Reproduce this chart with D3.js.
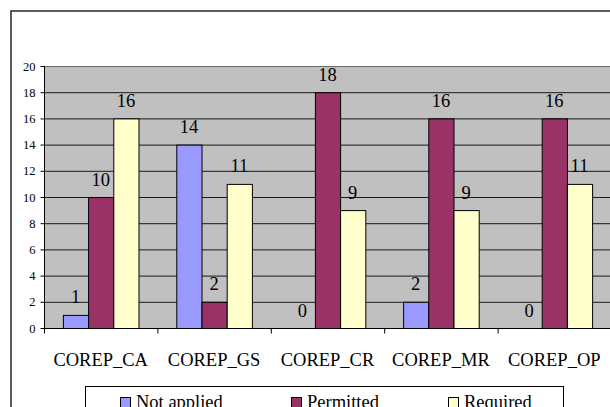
<!DOCTYPE html>
<html>
<head>
<meta charset="utf-8">
<script src="https://cdn.jsdelivr.net/npm/d3@7"></script>
<style>
  html, body { margin: 0; padding: 0; background: #fff; overflow: hidden; }
</style>
</head>
<body>
<svg id="chart" width="610" height="407"></svg>
<script>
var categories = ["COREP_CA", "COREP_GS", "COREP_CR", "COREP_MR", "COREP_OP"];
var seriesNames = ["Not applied", "Permitted", "Required"];
var notApplied = [1, 14, 0, 2, 0];
var permitted = [10, 2, 18, 16, 16];
var required = [16, 11, 9, 9, 11];
var yTicks = [0, 2, 4, 6, 8, 10, 12, 14, 16, 18, 20];
var seriesColors = ["#9999ff", "#993366", "#ffffcc"];
var serif = "'Times New Roman', 'Liberation Serif', Tinos, 'DejaVu Serif', serif";

var margin = { top: 66, left: 44, right: 611, bottom: 328 };

var svg = d3.select("#chart").style("font-family", serif);

// outer chart border (runs off the right and bottom edges)
svg.append("rect")
    .attr("x", 11).attr("y", 11)
    .attr("width", 640).attr("height", 440)
    .attr("fill", "#fff")
    .attr("stroke", "#333").attr("stroke-width", 1.6);

var xScale = d3.scaleBand().domain(categories).range([margin.left, margin.right]).paddingInner(0).paddingOuter(0);
var innerScale = d3.scaleBand().domain(seriesNames).range([0, xScale.bandwidth()]).paddingInner(0).paddingOuter(0.75);
var yScale = d3.scaleLinear().domain([0, 20]).range([margin.bottom, margin.top]);
var color = d3.scaleOrdinal().domain(seriesNames).range(seriesColors);

// plot area
svg.append("rect")
    .attr("x", margin.left).attr("y", margin.top)
    .attr("width", margin.right - margin.left).attr("height", margin.bottom - margin.top)
    .attr("fill", "#c0c0c0");

// gridlines
svg.append("g").selectAll("line").data(yTicks.slice(1)).enter().append("line")
    .attr("x1", margin.left).attr("x2", margin.right)
    .attr("y1", function (d) { return yScale(d) + 0.5; })
    .attr("y2", function (d) { return yScale(d) + 0.5; })
    .attr("stroke", function (d) { return d === 20 ? "#6a6a6a" : "#1a1a1a"; })
    .attr("stroke-width", 1);

// y axis
var yAxis = svg.append("g")
    .attr("transform", "translate(" + (margin.left + 0.5) + ",0)")
    .call(d3.axisLeft(yScale).tickValues(yTicks).tickSize(4).tickPadding(5));
yAxis.attr("font-family", null);
yAxis.selectAll("text").attr("font-size", "12.5px").attr("fill", "#000").style("font-family", serif);
yAxis.selectAll("line, path").attr("stroke", "#000");
yAxis.select(".domain").attr("d", "M0," + margin.bottom + "V" + margin.top);

// bars
var rows = categories.map(function (c, i) {
    return { cat: c, values: [notApplied[i], permitted[i], required[i]] };
});

var groups = svg.append("g").selectAll("g").data(rows).enter().append("g")
    .attr("transform", function (d) { return "translate(" + xScale(d.cat) + ",0)"; });

groups.selectAll("rect")
    .data(function (d) { return d.values.map(function (v, j) { return { name: seriesNames[j], value: v }; }); })
    .enter().filter(function (d) { return d.value > 0; }).append("rect")
    .attr("x", function (d) { return innerScale(d.name) + 0.5; })
    .attr("y", function (d) { return yScale(d.value) + 0.5; })
    .attr("width", innerScale.bandwidth())
    .attr("height", function (d) { return yScale(0) - yScale(d.value); })
    .attr("fill", function (d) { return color(d.name); })
    .attr("stroke", "#000").attr("stroke-width", 1);

// data labels
groups.selectAll("text")
    .data(function (d) { return d.values.map(function (v, j) { return { name: seriesNames[j], value: v }; }); })
    .enter().append("text")
    .attr("x", function (d) { return innerScale(d.name) + innerScale.bandwidth() / 2; })
    .attr("y", function (d) { return yScale(d.value) - 11.5; })
    .attr("text-anchor", "middle")
    .style("font-family", serif)
    .attr("font-size", "18.5px")
    .text(function (d) { return d.value; });

// x axis
var xAxis = svg.append("g")
    .attr("transform", "translate(0," + (margin.bottom + 0.5) + ")");
xAxis.append("line")
    .attr("x1", margin.left).attr("x2", margin.right)
    .attr("stroke", "#000");
xAxis.selectAll(".tick").data(categories).enter().append("line")
    .attr("x1", function (d) { return xScale(d) + 0.5; })
    .attr("x2", function (d) { return xScale(d) + 0.5; })
    .attr("y1", 0).attr("y2", 5)
    .attr("stroke", "#000");
xAxis.selectAll("text").data(categories).enter().append("text")
    .attr("x", function (d) { return xScale(d) + xScale.bandwidth() / 2; })
    .attr("y", 37.5)
    .attr("text-anchor", "middle")
    .style("font-family", serif)
    .attr("font-size", "18.5px")
    .text(function (d) { return d; });

// legend
var legend = svg.append("g");
legend.append("rect")
    .attr("x", 85.5).attr("y", 386.5)
    .attr("width", 478).attr("height", 40)
    .attr("fill", "#fff").attr("stroke", "#000").attr("stroke-width", 1);
var legendX = [120, 291, 448];
var items = legend.selectAll("g").data(seriesNames).enter().append("g")
    .attr("transform", function (d, i) { return "translate(" + legendX[i] + ",397)"; });
items.append("rect")
    .attr("x", 0.5).attr("y", 0.5).attr("width", 10).attr("height", 10)
    .attr("fill", function (d) { return color(d); })
    .attr("stroke", "#000");
items.append("text")
    .attr("x", 16).attr("y", 10.5)
    .style("font-family", serif)
    .attr("font-size", "18.5px")
    .text(function (d) { return d; });
</script>
</body>
</html>
